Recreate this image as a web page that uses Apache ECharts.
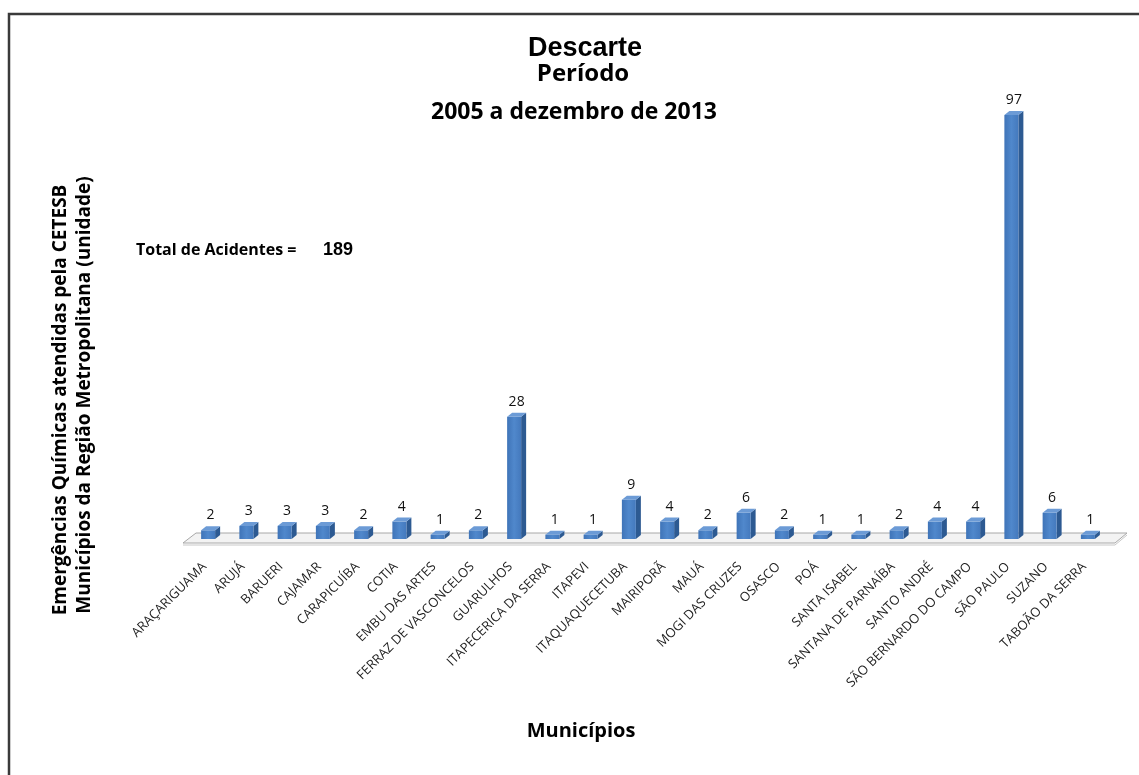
<!DOCTYPE html>
<html>
<head>
<meta charset="utf-8">
<script src="https://cdn.jsdelivr.net/npm/echarts@6/dist/echarts.min.js"></script>
<style>
  html, body { margin: 0; padding: 0; background: #ffffff; }
  #chart { width: 1139px; height: 775px; }
</style>
</head>
<body>
<div id="chart"></div>
<script>
// Municípios da Região Metropolitana e número de emergências (descarte)
const municipios = [
  'ARAÇARIGUAMA', 'ARUJÁ', 'BARUERI', 'CAJAMAR', 'CARAPICUÍBA', 'COTIA',
  'EMBU DAS ARTES', 'FERRAZ DE VASCONCELOS', 'GUARULHOS', 'ITAPECERICA DA SERRA',
  'ITAPEVI', 'ITAQUAQUECETUBA', 'MAIRIPORÃ', 'MAUÁ', 'MOGI DAS CRUZES', 'OSASCO',
  'POÁ', 'SANTA ISABEL', 'SANTANA DE PARNAÍBA', 'SANTO ANDRÉ',
  'SÃO BERNARDO DO CAMPO', 'SÃO PAULO', 'SUZANO', 'TABOÃO DA SERRA'
];
const emergencias = [2, 3, 3, 3, 2, 4, 1, 2, 28, 1, 1, 9, 4, 2, 6, 2, 1, 1, 2, 4, 4, 97, 6, 1];
const totalAcidentes = 189;

const tituloLinhas = ['Descarte', 'Período', '2005 a dezembro de 2013'];
const eixoY = ['Emergências Químicas atendidas pela CETESB', 'Municípios da Região Metropolitana (unidade)'];
const eixoX = 'Municípios';

const CAL = '"Open Sans", "DejaVu Sans", sans-serif';

const chart = echarts.init(document.getElementById('chart'), null, { renderer: 'canvas' });

// pseudo-3D column: front face, right side, top
function renderBar(params, api) {
  const idx = api.value(0);
  const v = api.value(1);
  const base = api.coord([idx, 0]);
  const top = api.coord([idx, v]);
  const w = 14, dx = 5, dy = 4;
  const x0 = base[0] - w / 2 - 2;
  const x1 = x0 + w;
  const yb = base[1] - 1;
  const yt = top[1] - 1;
  return {
    type: 'group',
    children: [
      {
        type: 'polygon',
        shape: { points: [[x1, yb], [x1 + dx, yb - dy], [x1 + dx, yt - dy], [x1, yt]] },
        style: { fill: '#2d5a92' }
      },
      {
        type: 'polygon',
        shape: { points: [[x0, yb], [x1, yb], [x1, yt], [x0, yt]] },
        style: {
          fill: new echarts.graphic.LinearGradient(0, 0, 1, 0, [
            { offset: 0, color: '#3f74b8' },
            { offset: 0.5, color: '#5088cc' },
            { offset: 1, color: '#4479bd' }
          ])
        }
      },
      {
        type: 'polygon',
        shape: { points: [[x0, yt], [x1, yt], [x1 + dx, yt - dy], [x0 + dx, yt - dy]] },
        style: { fill: '#6c9bd6' }
      },
      {
        type: 'text',
        style: {
          text: String(v),
          x: (x0 + x1 + dx) / 2,
          y: yt - dy - 11,
          textAlign: 'center',
          textVerticalAlign: 'middle',
          font: '14px ' + CAL,
          fill: '#111'
        }
      }
    ]
  };
}

const option = {
  backgroundColor: '#ffffff',
  animation: false,
  title: [
    { text: tituloLinhas[0], left: 580, top: 30, textAlign: 'center',
      textStyle: { fontFamily: '"Liberation Sans", Arial, sans-serif', fontWeight: 'bold', fontSize: 27, color: '#000' } },
    { text: tituloLinhas[1], left: 578, top: 57, textAlign: 'center',
      textStyle: { fontFamily: CAL, fontWeight: 'bold', fontSize: 24, color: '#000' } },
    { text: tituloLinhas[2], left: 569, top: 96, textAlign: 'center',
      textStyle: { fontFamily: CAL, fontWeight: 'bold', fontSize: 23, color: '#000' } }
  ],
  grid: { left: 191, right: 30, top: 103, bottom: 235, containLabel: false },
  xAxis: {
    type: 'category',
    data: municipios,
    boundaryGap: true,
    axisLine: { show: false },
    axisTick: { show: false },
    axisLabel: {
      interval: 0,
      rotate: 45,
      margin: 19,
      padding: [0, 8, 0, 0],
      fontFamily: CAL,
      fontSize: 13,
      color: '#222'
    }
  },
  yAxis: {
    type: 'value',
    min: 0,
    max: 100,
    show: false
  },
  series: [{
    type: 'custom',
    renderItem: renderBar,
    data: emergencias.map((v, i) => [i, v]),
    z: 10
  }],
  graphic: [
    // moldura
    { type: 'rect', shape: { x: 9, y: 14, width: 1200, height: 900 },
      style: { fill: 'none', stroke: '#3a3a3a', lineWidth: 2.5 }, z: 1 },
    // piso do gráfico
    { type: 'polygon', shape: { points: [[183, 543], [1115, 543], [1127, 533], [196, 533]] },
      style: { fill: '#f3f3f3', stroke: '#a8a8a8', lineWidth: 1 }, z: 2 },
    { type: 'polyline', shape: { points: [[183, 545], [1115, 545], [1127, 535]] },
      style: { fill: 'none', stroke: '#c8c8c8', lineWidth: 1 }, z: 2 },
    // títulos dos eixos
    { type: 'text', x: 61, y: 400, rotation: Math.PI / 2,
      style: { text: eixoY[0], font: 'bold 19px ' + CAL, fill: '#000', textAlign: 'center', textVerticalAlign: 'middle' }, z: 5 },
    { type: 'text', x: 85, y: 395, rotation: Math.PI / 2,
      style: { text: eixoY[1], font: 'bold 19px ' + CAL, fill: '#000', textAlign: 'center', textVerticalAlign: 'middle' }, z: 5 },
    { type: 'text', x: 581, y: 731,
      style: { text: eixoX, font: 'bold 20px ' + CAL, fill: '#000', textAlign: 'center', textVerticalAlign: 'middle' }, z: 5 },
    // total
    { type: 'text', x: 136, y: 250,
      style: { text: 'Total de Acidentes =', font: 'bold 16px ' + CAL, fill: '#000', textAlign: 'left', textVerticalAlign: 'middle' }, z: 5 },
    { type: 'text', x: 323, y: 250,
      style: { text: String(totalAcidentes), font: 'bold 18px "Liberation Sans", Arial, sans-serif', fill: '#000', textAlign: 'left', textVerticalAlign: 'middle' }, z: 5 }
  ]
};

chart.setOption(option);
</script>
</body>
</html>
